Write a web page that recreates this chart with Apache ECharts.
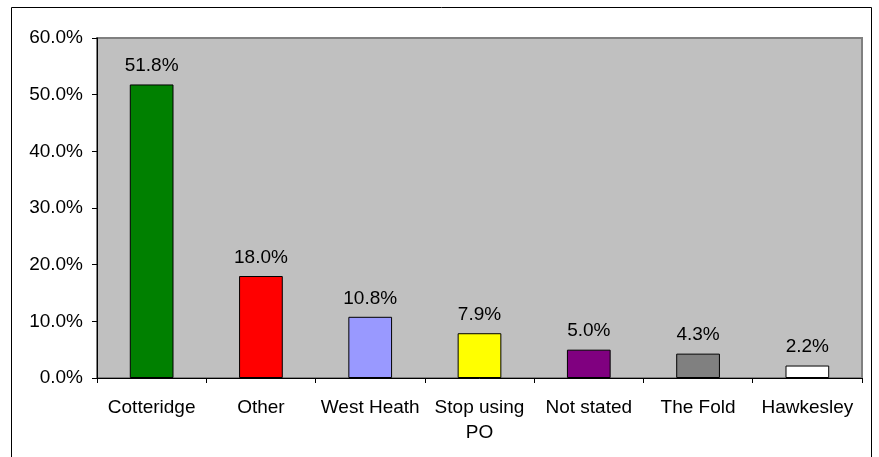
<!DOCTYPE html>
<html>
<head>
<meta charset="utf-8">
<script src="https://cdn.jsdelivr.net/npm/echarts@6/dist/echarts.min.js"></script>
<style>
  html, body { margin: 0; padding: 0; background: #ffffff; }
  #chart { width: 879px; height: 457px; }
</style>
</head>
<body>
<div id="chart"></div>
<script>
// Post office usage shares by location
const categories = ['Cotteridge', 'Other', 'West Heath', 'Stop using\nPO', 'Not stated', 'The Fold', 'Hawkesley'];
const shares = [51.8, 18.0, 10.8, 7.9, 5.0, 4.3, 2.2];
const barColors = ['#008000', '#FF0000', '#9999FF', '#FFFF00', '#800080', '#808080', '#FFFFFF'];
const yTicks = [0, 10, 20, 30, 40, 50, 60];

const FONT = '"Liberation Sans", Arial, sans-serif';

const chart = echarts.init(document.getElementById('chart'), null, { renderer: 'canvas' });

chart.setOption({
  animation: false,
  backgroundColor: '#ffffff',
  graphic: [{
    type: 'rect',
    shape: { x: 11.5, y: 7.5, width: 860, height: 470 },
    style: { fill: 'none', stroke: '#000000', lineWidth: 1 },
    silent: true,
    z: 100
  }],
  grid: {
    left: 97, right: 17, top: 38, bottom: 79,
    show: true,
    backgroundColor: '#C0C0C0',
    borderColor: '#808080',
    borderWidth: 2
  },
  xAxis: {
    type: 'category',
    data: categories,
    axisLine: { show: true, lineStyle: { color: '#000000', width: 1 } },
    axisTick: { show: true, alignWithLabel: false, length: 5, lineStyle: { color: '#000000' } },
    axisLabel: {
      color: '#000000', fontFamily: FONT, fontSize: 19, margin: 17,
      lineHeight: 25, interval: 0
    },
    splitLine: { show: false }
  },
  yAxis: {
    type: 'value',
    min: yTicks[0],
    max: yTicks[yTicks.length - 1],
    interval: 10,
    axisLine: { show: true, lineStyle: { color: '#000000', width: 1 } },
    axisTick: { show: true, length: 5, lineStyle: { color: '#000000' } },
    axisLabel: {
      color: '#000000', fontFamily: FONT, fontSize: 19, margin: 14,
      formatter: v => v.toFixed(1) + '%'
    },
    splitLine: { show: false }
  },
  series: [{
    type: 'bar',
    data: shares.map((v, i) => ({ value: v, itemStyle: { color: barColors[i] } })),
    barWidth: '40%',
    itemStyle: { borderColor: '#000000', borderWidth: 1 },
    label: {
      show: true,
      position: 'top',
      distance: 9,
      color: '#000000',
      fontFamily: FONT,
      fontSize: 19,
      formatter: p => p.value.toFixed(1) + '%'
    }
  }]
});
</script>
</body>
</html>
